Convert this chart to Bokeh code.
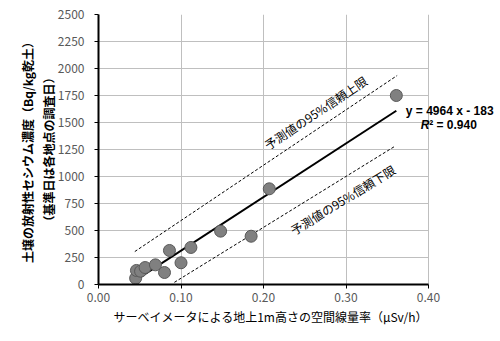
from bokeh.plotting import figure
from bokeh.models import Label, Range1d, FixedTicker, Title
from bokeh.embed import file_html
from bokeh.resources import INLINE

# data
dose_rate = [0.045, 0.046, 0.051, 0.0565, 0.069, 0.080, 0.086, 0.100, 0.112, 0.148, 0.185, 0.207, 0.361]
cesium = [58, 130, 123, 157, 182, 111, 315, 201, 343, 494, 447, 886, 1750]

fit_x = [0.046, 0.361]
fit_y = [45, 1609]
upper_x = [0.044, 0.362]
upper_y = [305, 1935]
lower_x = [0.092, 0.3595]
lower_y = [20, 1281]

x_ticks = [0.0, 0.1, 0.2, 0.3, 0.4]
y_ticks = [0, 250, 500, 750, 1000, 1250, 1500, 1750, 2000, 2250, 2500]
x_max = 0.4
y_max = 2500

JP = "Noto Sans CJK JP"

# frame extends past x=0.40 so the regression equation can sit to the right
x_end = x_max + 72 / 825
p = figure(width=500, height=341, output_backend="svg", toolbar_location=None,
           x_range=Range1d(0, x_end), y_range=Range1d(0, y_max),
           min_border_left=98, min_border_right=0, min_border_top=14, min_border_bottom=57)
p.outline_line_color = None
p.background_fill_color = "white"

for ax in (p.xaxis[0], p.yaxis[0]):
    ax.axis_line_color = "black"
    ax.axis_line_width = 2
    ax.major_tick_line_color = "black"
    ax.major_tick_line_width = 1
    ax.major_tick_out = 4
    ax.major_tick_in = 0
    ax.minor_tick_line_color = None
    ax.major_label_text_font = JP
    ax.major_label_text_font_size = "12px"
    ax.major_label_text_color = "#595959"
    ax.axis_label_text_font = JP
    ax.axis_label_text_font_size = "12px"
    ax.axis_label_text_color = "black"

p.xaxis[0].bounds = (0, x_max)
p.xaxis[0].ticker = FixedTicker(ticks=x_ticks)
p.yaxis[0].ticker = FixedTicker(ticks=y_ticks)
p.xaxis[0].major_label_overrides = {t: f"{t:.2f}" for t in x_ticks}
p.xaxis[0].major_label_standoff = 4
p.yaxis[0].major_label_standoff = 10
p.yaxis[0].axis_label = "土壌の放射性セシウム濃度（Bq/kg乾土）\n（基準日は各地点の調査日）"
p.yaxis[0].axis_label_standoff = -2
p.yaxis[0].axis_label_text_font_style = "bold"

xt = Title(text="サーベイメータによる地上1m高さの空間線量率（μSv/h）", align="left", offset=15,
           text_font=JP, text_font_size="12px", text_font_style="normal",
           text_color="black", standoff=2)
p.add_layout(xt, "below")

p.xgrid.ticker = FixedTicker(ticks=x_ticks)
p.ygrid.ticker = FixedTicker(ticks=y_ticks)
p.grid.grid_line_color = "#bfbfbf"
p.grid.grid_line_width = 1
try:
    p.ygrid[0].cross_bounds = (0, x_max)
    p.xgrid[0].bounds = (0, x_max)
except AttributeError:
    p.grid.visible = False
    p.segment(x0=[0] * len(y_ticks), y0=y_ticks, x1=[x_max] * len(y_ticks), y1=y_ticks,
              line_color="#bfbfbf", line_width=1)
    p.segment(x0=x_ticks, y0=[0] * len(x_ticks), x1=x_ticks, y1=[y_max] * len(x_ticks),
              line_color="#bfbfbf", line_width=1)

p.line(upper_x, upper_y, line_color="black", line_width=1, line_dash="3 2")
p.line(lower_x, lower_y, line_color="black", line_width=1, line_dash="3 2")
p.line(fit_x, fit_y, line_color="black", line_width=2)
p.scatter(dose_rate, cesium, size=12, fill_color="#808080", line_color="#595959", line_width=1)

ang_up = 0.59
ang_lo = 0.55
labels = [
    Label(x=0.263, y=1593, text="予測値の95%信頼上限", angle=ang_up,
          text_align="center", text_baseline="middle", text_font=JP,
          text_font_size="12px", text_color="black"),
    Label(x=0.296, y=787, text="予測値の95%信頼下限", angle=ang_lo,
          text_align="center", text_baseline="middle", text_font=JP,
          text_font_size="12px", text_color="black"),
    Label(x=0.3725, y=1611, text="y = 4964 x - 183", text_align="left",
          text_baseline="middle", text_font="Liberation Sans",
          text_font_style="bold", text_font_size="12px", text_color="black"),
    Label(x=0.3907, y=1481, text="R", text_align="left",
          text_baseline="middle", text_font="Liberation Sans",
          text_font_style="bold italic", text_font_size="12px", text_color="black"),
    Label(x=0.4008, y=1481, text="² = 0.940", text_align="left",
          text_baseline="middle", text_font="Liberation Sans",
          text_font_style="bold", text_font_size="12px", text_color="black"),
]
for lb in labels:
    p.add_layout(lb)

open("out.html", "w").write(file_html(p, INLINE))
